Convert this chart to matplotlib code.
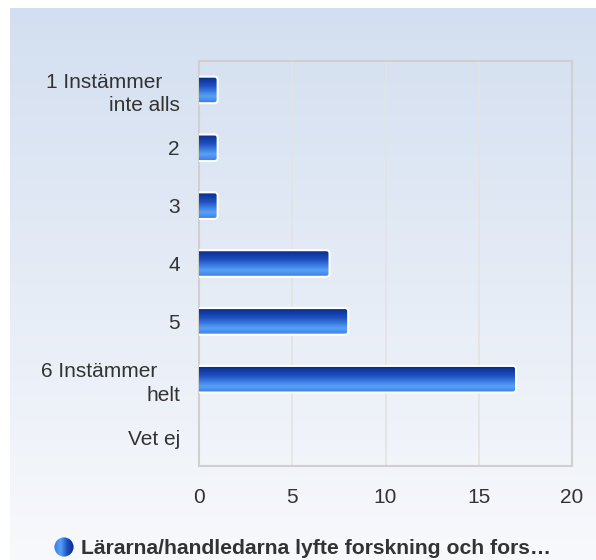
import matplotlib
matplotlib.use("Agg")
import matplotlib.pyplot as plt
import numpy as np
from matplotlib.colors import LinearSegmentedColormap
from matplotlib.patches import FancyBboxPatch, Circle

categories = ["1 Instämmer   \ninte alls", "2", "3", "4", "5", "6 Instämmer    \nhelt", "Vet ej"]
values = [1, 1, 1, 7, 8, 17, 0]
xticks = [0, 5, 10, 15, 20]
series_name = "Lärarna/handledarna lyfte forskning och fors…"

plt.rcParams['font.family'] = ['Liberation Sans', 'DejaVu Sans']

W, H = 596, 560
fig = plt.figure(figsize=(W / 100, H / 100), dpi=100)

# background gradient panel
bg = fig.add_axes([10 / W, 0, 1 - 10 / W, 1 - 8 / H], zorder=-10)
grad = np.linspace(0, 1, 256).reshape(-1, 1)
bg_cmap = LinearSegmentedColormap.from_list("bg", ["#d3dff0", "#f8f9fc"])
bg.imshow(grad, aspect="auto", cmap=bg_cmap, extent=[0, 1, 0, 1], origin="upper")
bg.set_axis_off()

ax = fig.add_axes([199 / W, 1 - 466 / H, (572 - 199) / W, (466 - 61) / H])
ax.patch.set_alpha(0)
ax.set_xlim(0, 20)
ax.set_ylim(len(categories) - 0.5, -0.5)

bar_cmap = LinearSegmentedColormap.from_list(
    "bar", [(0.0, "#0a2a88"), (0.35, "#1d4fc0"), (0.75, "#56a2f8"), (1.0, "#3b7be0")])
bar_h = 0.46
ypos = np.arange(len(categories))
bars = ax.barh(ypos, values, height=bar_h, color="none", edgecolor="none")
ppx_x = (572 - 199) / 20.0
ppx_y = (466 - 61) / len(categories)
for rect, v in zip(bars, values):
    if v <= 0:
        continue
    x0, y0 = rect.get_x(), rect.get_y()
    w, h = rect.get_width(), rect.get_height()
    r = 3.0 / ppx_x
    patch = FancyBboxPatch((x0 - r, y0), w + r, h,
                           boxstyle=f"round,pad=0,rounding_size={r}",
                           mutation_aspect=ppx_x / ppx_y,
                           facecolor="none", edgecolor="white", linewidth=1.5, zorder=4)
    ax.add_patch(patch)
    im = ax.imshow(grad, aspect="auto", cmap=bar_cmap, extent=[x0, x0 + w, y0 + h, y0],
                   origin="upper", zorder=3, interpolation="bilinear")
    im.set_clip_path(patch)
ax.set_xlim(0, 20)
ax.set_ylim(len(categories) - 0.5, -0.5)

ax.set_xticks(xticks)
ax.set_xticklabels([str(t) for t in xticks])
ax.set_yticks(ypos)
ax.set_yticklabels(categories, linespacing=1.3)
ax.tick_params(axis="both", length=0, labelsize=15, colors="#333333")
ax.tick_params(axis="x", pad=16)
ax.tick_params(axis="y", pad=13.7)
ax.grid(axis="x", color="#e3e3e3", linewidth=1.2)
ax.set_axisbelow(True)
for s in ax.spines.values():
    s.set_color("#d0d0d0")
    s.set_linewidth(1.5)

# legend
lax = fig.add_axes([54 / W, 1 - 557 / H, 20 / W, 20 / H])
lax.set_xlim(0, 1)
lax.set_ylim(0, 1)
lax.set_axis_off()
circ = Circle((0.5, 0.5), 0.48, facecolor="none", edgecolor="none", transform=lax.transData)
lax.add_patch(circ)
hgrad = np.linspace(0, 1, 256).reshape(1, -1)
leg_cmap = LinearSegmentedColormap.from_list("leg", ["#3b7be0", "#56a2f8", "#1d4fc0", "#0a2a88"])
lim = lax.imshow(hgrad, aspect="auto", cmap=leg_cmap, extent=[0, 1, 0, 1], interpolation="bilinear")
lim.set_clip_path(circ)
fig.text(81 / W, 1 - 548 / H, series_name, fontsize=15.2, fontweight="bold",
         color="#333333", ha="left", va="center")

fig.savefig("out.png", dpi=100)
